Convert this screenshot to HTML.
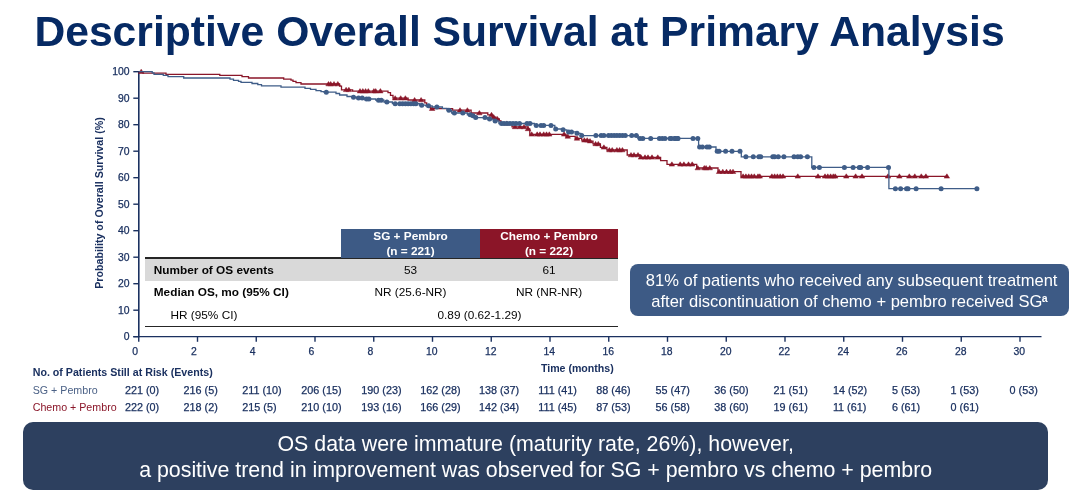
<!DOCTYPE html>
<html lang="en"><head><meta charset="utf-8"><title>Descriptive Overall Survival at Primary Analysis</title>
<style>
html,body{margin:0;padding:0;background:#fff}
body{width:1080px;height:497px;position:relative;overflow:hidden;font-family:"Liberation Sans",sans-serif}
div{position:absolute;white-space:nowrap}
.title{left:34.4px;top:7px;font-size:42.65px;font-weight:bold;color:#062a64;line-height:48px}
.yt{left:100px;width:29.6px;text-align:right;font-size:10.4px;line-height:12px;color:#1b3160;-webkit-text-stroke:0.25px #1b3160}
.xt{top:345.9px;font-size:10.4px;line-height:12px;color:#1b3160;-webkit-text-stroke:0.25px #1b3160}
.rk{font-size:10.8px;line-height:12px;color:#1b3160;-webkit-text-stroke:0.25px #1b3160}
.ylab{left:99.4px;top:203.9px;width:0;height:0}
.ylab span{position:absolute;display:block;left:-100px;width:200px;top:-6.5px;height:12px;line-height:12px;text-align:center;transform:rotate(-90deg);font-size:10.7px;font-weight:bold;color:#1b3160}
.xlab{left:540.9px;top:362.4px;font-size:10.62px;line-height:12px;font-weight:bold;color:#1b3160}
.rh{left:32.7px;top:365.9px;font-size:10.66px;line-height:12px;font-weight:bold;color:#1b3160}
.r1{left:32.7px;top:383.6px;font-size:10.68px;line-height:12px;color:#4b6186}
.r2{left:32.7px;top:400.8px;font-size:10.68px;line-height:12px;color:#8a1629}
.tb{font-size:11.8px;line-height:14px;color:#050505}
.hd{top:228.8px;height:29px;color:#fff;font-weight:bold;text-align:center;font-size:11.8px;line-height:14.4px;padding-top:0.5px;box-sizing:border-box}
.call{left:630.1px;top:264px;width:438.7px;height:52px;border-radius:8px;background:#3d5a85;color:#fff;text-align:center;font-size:16.54px;line-height:20.2px;padding-top:7.3px;box-sizing:border-box}
.call sup{font-size:10.5px;line-height:0;vertical-align:4.5px;font-weight:bold;margin-left:-0.5px}
.call span{position:relative;left:2.2px}
.ban{left:23px;top:422px;width:1025.3px;height:68px;border-radius:10px;background:#2d405f;color:#fff;text-align:center;font-size:21.37px;line-height:25.6px;padding-top:10.1px;box-sizing:border-box}
</style></head><body>
<div class="title">Descriptive Overall Survival at Primary Analysis</div>
<svg width="1080" height="497" viewBox="0 0 1080 497" style="position:absolute;left:0;top:0">
<g stroke="#1b3160" stroke-width="1.4" fill="none">
<path d="M138.8 71.1V337.2" stroke-width="1.6"/>
<path d="M133.3 336.6H1041.5"/>
<path d="M133.3 336.7H138.9"/>
<path d="M133.3 310.2H138.9"/>
<path d="M133.3 283.7H138.9"/>
<path d="M133.3 257.2H138.9"/>
<path d="M133.3 230.7H138.9"/>
<path d="M133.3 204.2H138.9"/>
<path d="M133.3 177.7H138.9"/>
<path d="M133.3 151.2H138.9"/>
<path d="M133.3 124.7H138.9"/>
<path d="M133.3 98.2H138.9"/>
<path d="M133.3 71.7H138.9"/>
<path d="M138.75 336.6V341.8"/>
<path d="M197.50 336.6V341.8"/>
<path d="M256.25 336.6V341.8"/>
<path d="M315.00 336.6V341.8"/>
<path d="M373.75 336.6V341.8"/>
<path d="M432.50 336.6V341.8"/>
<path d="M491.25 336.6V341.8"/>
<path d="M550.00 336.6V341.8"/>
<path d="M608.75 336.6V341.8"/>
<path d="M667.50 336.6V341.8"/>
<path d="M726.25 336.6V341.8"/>
<path d="M785.00 336.6V341.8"/>
<path d="M843.75 336.6V341.8"/>
<path d="M902.50 336.6V341.8"/>
<path d="M961.25 336.6V341.8"/>
<path d="M1020.00 336.6V341.8"/>
</g>
<path d="M138.8 71.7H143.0V73.1H166.0V74.3H219.8V75.4H242.0V76.7H248.5V78.0H283.7V79.1H291.0V80.2H293.0V81.3H296.0V82.6H301.0V84.0H339.6V86.2H341.5V89.8H352.6V91.1H388.0V92.7H390.5V95.4H393.0V98.2H408.1V100.0H424.8V102.8H426.7V104.7H428.5V106.5H430.4V108.7H452.6V110.2H471.1V113.0H487.8V114.8H492.0V117.1H496.0V118.9H499.3V120.8H501.0V123.4H512.0V126.9H528.0V128.9H529.8V134.3H566.0V136.4H575.2V138.4H581.7V140.2H589.3V141.1H593.0V143.9H600.4V147.3H606.9V150.0H627.2V155.0H640.2V157.3H660.6V160.6H667.0V164.3H696.7V168.0H718.0V171.7H741.0V176.3H948.1" stroke="#8a1629" stroke-width="1.3" fill="none"/>
<g fill="#8a1629" stroke="#8a1629" stroke-width="0.5" stroke-linejoin="round">
<path d="M138.4 73.5L141.2 69.2L143.9 73.5Z"/>
<path d="M325.8 85.8L328.5 81.5L331.2 85.8Z"/>
<path d="M327.9 85.8L330.7 81.5L333.4 85.8Z"/>
<path d="M331.2 85.8L334.0 81.5L336.8 85.8Z"/>
<path d="M335.1 85.8L337.8 81.5L340.6 85.8Z"/>
<path d="M343.4 91.6L346.1 87.3L348.9 91.6Z"/>
<path d="M346.1 91.6L348.9 87.3L351.6 91.6Z"/>
<path d="M357.2 92.9L360.0 88.6L362.8 92.9Z"/>
<path d="M360.1 92.9L362.8 88.6L365.6 92.9Z"/>
<path d="M362.9 92.9L365.6 88.6L368.4 92.9Z"/>
<path d="M365.6 92.9L368.3 88.6L371.1 92.9Z"/>
<path d="M371.1 92.9L373.9 88.6L376.6 92.9Z"/>
<path d="M372.9 92.9L375.7 88.6L378.4 92.9Z"/>
<path d="M377.6 92.9L380.4 88.6L383.1 92.9Z"/>
<path d="M392.4 100.0L395.2 95.7L397.9 100.0Z"/>
<path d="M397.9 100.0L400.7 95.7L403.4 100.0Z"/>
<path d="M402.6 100.0L405.4 95.7L408.1 100.0Z"/>
<path d="M411.9 101.8L414.6 97.5L417.4 101.8Z"/>
<path d="M418.4 101.8L421.1 97.5L423.9 101.8Z"/>
<path d="M429.4 110.5L432.2 106.2L434.9 110.5Z"/>
<path d="M457.2 112.0L460.0 107.7L462.8 112.0Z"/>
<path d="M464.6 112.0L467.4 107.7L470.1 112.0Z"/>
<path d="M476.6 114.8L479.4 110.5L482.1 114.8Z"/>
<path d="M488.8 116.6L491.5 112.3L494.2 116.6Z"/>
<path d="M490.9 118.9L493.7 114.6L496.4 118.9Z"/>
<path d="M494.6 120.7L497.4 116.4L500.1 120.7Z"/>
<path d="M503.9 125.2L506.7 120.9L509.4 125.2Z"/>
<path d="M512.2 128.7L515.0 124.4L517.8 128.7Z"/>
<path d="M517.2 128.7L520.0 124.4L522.8 128.7Z"/>
<path d="M521.2 128.7L524.0 124.4L526.8 128.7Z"/>
<path d="M525.2 130.7L528.0 126.4L530.8 130.7Z"/>
<path d="M529.0 136.1L531.7 131.8L534.5 136.1Z"/>
<path d="M534.5 136.1L537.2 131.8L540.0 136.1Z"/>
<path d="M537.2 136.1L540.0 131.8L542.8 136.1Z"/>
<path d="M541.0 136.1L543.7 131.8L546.5 136.1Z"/>
<path d="M543.8 136.1L546.5 131.8L549.2 136.1Z"/>
<path d="M546.5 136.1L549.3 131.8L552.0 136.1Z"/>
<path d="M561.4 136.1L564.1 131.8L566.9 136.1Z"/>
<path d="M565.0 138.2L567.8 133.9L570.5 138.2Z"/>
<path d="M574.2 140.2L577.0 135.9L579.8 140.2Z"/>
<path d="M581.6 142.0L584.4 137.7L587.1 142.0Z"/>
<path d="M584.5 142.0L587.2 137.7L590.0 142.0Z"/>
<path d="M587.2 142.9L590.0 138.6L592.8 142.9Z"/>
<path d="M592.9 145.7L595.6 141.4L598.4 145.7Z"/>
<path d="M595.5 145.7L598.3 141.4L601.0 145.7Z"/>
<path d="M601.1 149.1L603.9 144.8L606.6 149.1Z"/>
<path d="M606.6 151.8L609.4 147.5L612.1 151.8Z"/>
<path d="M609.5 151.8L612.2 147.5L615.0 151.8Z"/>
<path d="M614.1 151.8L616.9 147.5L619.6 151.8Z"/>
<path d="M616.9 151.8L619.6 147.5L622.4 151.8Z"/>
<path d="M619.6 151.8L622.4 147.5L625.1 151.8Z"/>
<path d="M628.2 156.8L631.0 152.5L633.8 156.8Z"/>
<path d="M631.2 156.8L634.0 152.5L636.8 156.8Z"/>
<path d="M635.2 156.8L638.0 152.5L640.8 156.8Z"/>
<path d="M638.2 159.1L641.0 154.8L643.8 159.1Z"/>
<path d="M642.2 159.1L645.0 154.8L647.8 159.1Z"/>
<path d="M645.2 159.1L648.0 154.8L650.8 159.1Z"/>
<path d="M649.2 159.1L652.0 154.8L654.8 159.1Z"/>
<path d="M655.0 159.1L657.8 154.8L660.5 159.1Z"/>
<path d="M669.1 166.1L671.9 161.8L674.6 166.1Z"/>
<path d="M677.5 166.1L680.2 161.8L683.0 166.1Z"/>
<path d="M681.1 166.1L683.9 161.8L686.6 166.1Z"/>
<path d="M685.8 166.1L688.5 161.8L691.2 166.1Z"/>
<path d="M689.5 166.1L692.2 161.8L695.0 166.1Z"/>
<path d="M695.0 169.8L697.8 165.5L700.5 169.8Z"/>
<path d="M701.5 169.8L704.3 165.5L707.0 169.8Z"/>
<path d="M703.4 169.8L706.1 165.5L708.9 169.8Z"/>
<path d="M707.0 169.8L709.8 165.5L712.5 169.8Z"/>
<path d="M716.4 173.5L719.1 169.2L721.9 173.5Z"/>
<path d="M720.0 173.5L722.8 169.2L725.5 173.5Z"/>
<path d="M723.8 173.5L726.5 169.2L729.2 173.5Z"/>
<path d="M727.5 173.5L730.2 169.2L733.0 173.5Z"/>
<path d="M730.2 173.5L733.0 169.2L735.8 173.5Z"/>
<path d="M740.4 178.1L743.1 173.8L745.9 178.1Z"/>
<path d="M743.1 178.1L745.9 173.8L748.6 178.1Z"/>
<path d="M746.0 178.1L748.7 173.8L751.5 178.1Z"/>
<path d="M748.8 178.1L751.5 173.8L754.2 178.1Z"/>
<path d="M751.5 178.1L754.3 173.8L757.0 178.1Z"/>
<path d="M755.2 178.1L758.0 173.8L760.8 178.1Z"/>
<path d="M757.0 178.1L759.8 173.8L762.5 178.1Z"/>
<path d="M769.1 178.1L771.9 173.8L774.6 178.1Z"/>
<path d="M771.9 178.1L774.6 173.8L777.4 178.1Z"/>
<path d="M774.6 178.1L777.4 173.8L780.1 178.1Z"/>
<path d="M777.5 178.1L780.2 173.8L783.0 178.1Z"/>
<path d="M780.2 178.1L783.0 173.8L785.8 178.1Z"/>
<path d="M795.0 178.1L797.8 173.8L800.5 178.1Z"/>
<path d="M815.2 178.1L818.0 173.8L820.8 178.1Z"/>
<path d="M822.2 178.1L825.0 173.8L827.8 178.1Z"/>
<path d="M825.0 178.1L827.8 173.8L830.5 178.1Z"/>
<path d="M827.9 178.1L830.6 173.8L833.4 178.1Z"/>
<path d="M830.5 178.1L833.3 173.8L836.0 178.1Z"/>
<path d="M832.5 178.1L835.2 173.8L838.0 178.1Z"/>
<path d="M843.5 178.1L846.3 173.8L849.0 178.1Z"/>
<path d="M852.9 178.1L855.6 173.8L858.4 178.1Z"/>
<path d="M859.2 178.1L862.0 173.8L864.8 178.1Z"/>
<path d="M885.2 178.1L888.0 173.8L890.8 178.1Z"/>
<path d="M896.6 178.1L899.4 173.8L902.1 178.1Z"/>
<path d="M906.5 178.1L909.3 173.8L912.0 178.1Z"/>
<path d="M912.0 178.1L914.8 173.8L917.5 178.1Z"/>
<path d="M918.5 178.1L921.3 173.8L924.0 178.1Z"/>
<path d="M923.1 178.1L925.9 173.8L928.6 178.1Z"/>
<path d="M944.1 178.1L946.9 173.8L949.6 178.1Z"/>
</g>
<path d="M138.8 71.7H152.2V72.9H154.0V74.3H163.3V75.4H168.0V76.7H183.7V78.0H230.0V79.1H233.5V80.4H238.5V81.4H241.0V82.4H252.0V83.5H257.8V84.6H261.5V85.9H281.0V87.2H305.0V88.3H310.5V89.4H316.0V90.6H321.0V91.6H324.0V92.2H336.0V93.5H339.6V95.0H347.0V96.5H351.7V97.2H356.3V98.1H364.6V99.0H375.7V100.2H384.0V102.0H392.4V103.7H419.3V105.2H425.7V105.8H432.2V107.0H442.4V108.3H447.0V110.2H451.7V113.0H467.4V114.8H472.0V115.8H474.8V117.6H487.8V119.1H493.3V120.9H498.9V123.5H534.4V125.4H554.8V129.0H563.0V129.8H566.9V131.9H577.0V133.3H580.7V135.6H638.0V138.4H698.6V147.0H716.0V151.3H741.3V156.8H811.8V167.4H888.9V188.7H976.9" stroke="#3f5d88" stroke-width="1.3" fill="none"/>
<g fill="#3f5d88">
<circle cx="326.3" cy="92.2" r="2.5"/>
<circle cx="353.5" cy="97.2" r="2.5"/>
<circle cx="358.5" cy="98.1" r="2.5"/>
<circle cx="362.2" cy="98.1" r="2.5"/>
<circle cx="366.5" cy="99.0" r="2.5"/>
<circle cx="368.9" cy="99.0" r="2.5"/>
<circle cx="378.5" cy="100.2" r="2.5"/>
<circle cx="381.3" cy="100.2" r="2.5"/>
<circle cx="386.9" cy="102.0" r="2.5"/>
<circle cx="395.2" cy="103.7" r="2.5"/>
<circle cx="399.8" cy="103.7" r="2.5"/>
<circle cx="402.6" cy="103.7" r="2.5"/>
<circle cx="405.4" cy="103.7" r="2.5"/>
<circle cx="408.1" cy="103.7" r="2.5"/>
<circle cx="410.9" cy="103.7" r="2.5"/>
<circle cx="413.7" cy="103.7" r="2.5"/>
<circle cx="415.9" cy="103.7" r="2.5"/>
<circle cx="421.7" cy="105.2" r="2.5"/>
<circle cx="428.5" cy="105.8" r="2.5"/>
<circle cx="436.9" cy="107.0" r="2.5"/>
<circle cx="448.9" cy="110.2" r="2.5"/>
<circle cx="454.4" cy="113.0" r="2.5"/>
<circle cx="462.8" cy="113.0" r="2.5"/>
<circle cx="470.2" cy="114.8" r="2.5"/>
<circle cx="473.0" cy="115.8" r="2.5"/>
<circle cx="475.7" cy="117.6" r="2.5"/>
<circle cx="485.0" cy="117.6" r="2.5"/>
<circle cx="489.6" cy="119.1" r="2.5"/>
<circle cx="495.2" cy="120.9" r="2.5"/>
<circle cx="501.5" cy="123.5" r="2.5"/>
<circle cx="504.0" cy="123.5" r="2.5"/>
<circle cx="507.0" cy="123.5" r="2.5"/>
<circle cx="510.0" cy="123.5" r="2.5"/>
<circle cx="513.0" cy="123.5" r="2.5"/>
<circle cx="516.0" cy="123.5" r="2.5"/>
<circle cx="519.5" cy="123.5" r="2.5"/>
<circle cx="527.0" cy="123.5" r="2.5"/>
<circle cx="530.0" cy="123.5" r="2.5"/>
<circle cx="536.3" cy="125.4" r="2.5"/>
<circle cx="541.0" cy="125.4" r="2.5"/>
<circle cx="543.7" cy="125.4" r="2.5"/>
<circle cx="551.0" cy="125.4" r="2.5"/>
<circle cx="555.7" cy="129.0" r="2.5"/>
<circle cx="563.1" cy="129.8" r="2.5"/>
<circle cx="568.7" cy="131.9" r="2.5"/>
<circle cx="571.5" cy="131.9" r="2.5"/>
<circle cx="577.0" cy="133.3" r="2.5"/>
<circle cx="581.7" cy="135.6" r="2.5"/>
<circle cx="595.9" cy="135.6" r="2.5"/>
<circle cx="601.1" cy="135.6" r="2.5"/>
<circle cx="603.9" cy="135.6" r="2.5"/>
<circle cx="608.5" cy="135.6" r="2.5"/>
<circle cx="611.3" cy="135.6" r="2.5"/>
<circle cx="614.1" cy="135.6" r="2.5"/>
<circle cx="616.9" cy="135.6" r="2.5"/>
<circle cx="619.7" cy="135.6" r="2.5"/>
<circle cx="622.5" cy="135.6" r="2.5"/>
<circle cx="625.3" cy="135.6" r="2.5"/>
<circle cx="631.7" cy="135.6" r="2.5"/>
<circle cx="636.3" cy="135.6" r="2.5"/>
<circle cx="640.0" cy="138.4" r="2.5"/>
<circle cx="642.8" cy="138.4" r="2.5"/>
<circle cx="650.7" cy="138.4" r="2.5"/>
<circle cx="659.4" cy="138.4" r="2.5"/>
<circle cx="662.2" cy="138.4" r="2.5"/>
<circle cx="665.0" cy="138.4" r="2.5"/>
<circle cx="671.5" cy="138.4" r="2.5"/>
<circle cx="675.2" cy="138.4" r="2.5"/>
<circle cx="678.0" cy="138.4" r="2.5"/>
<circle cx="670.0" cy="138.4" r="2.5"/>
<circle cx="674.6" cy="138.4" r="2.5"/>
<circle cx="677.4" cy="138.4" r="2.5"/>
<circle cx="693.0" cy="138.4" r="2.5"/>
<circle cx="697.8" cy="138.4" r="2.5"/>
<circle cx="699.6" cy="147.0" r="2.5"/>
<circle cx="702.4" cy="147.0" r="2.5"/>
<circle cx="707.0" cy="147.0" r="2.5"/>
<circle cx="709.3" cy="147.0" r="2.5"/>
<circle cx="717.2" cy="151.3" r="2.5"/>
<circle cx="719.1" cy="151.3" r="2.5"/>
<circle cx="725.6" cy="151.3" r="2.5"/>
<circle cx="732.0" cy="151.3" r="2.5"/>
<circle cx="740.0" cy="151.3" r="2.5"/>
<circle cx="745.9" cy="156.8" r="2.5"/>
<circle cx="753.3" cy="156.8" r="2.5"/>
<circle cx="758.9" cy="156.8" r="2.5"/>
<circle cx="760.7" cy="156.8" r="2.5"/>
<circle cx="772.8" cy="156.8" r="2.5"/>
<circle cx="774.6" cy="156.8" r="2.5"/>
<circle cx="778.3" cy="156.8" r="2.5"/>
<circle cx="783.9" cy="156.8" r="2.5"/>
<circle cx="794.0" cy="156.8" r="2.5"/>
<circle cx="797.8" cy="156.8" r="2.5"/>
<circle cx="800.6" cy="156.8" r="2.5"/>
<circle cx="807.4" cy="156.8" r="2.5"/>
<circle cx="813.9" cy="167.4" r="2.5"/>
<circle cx="819.4" cy="167.4" r="2.5"/>
<circle cx="844.4" cy="167.4" r="2.5"/>
<circle cx="853.1" cy="167.4" r="2.5"/>
<circle cx="859.3" cy="167.4" r="2.5"/>
<circle cx="860.7" cy="167.4" r="2.5"/>
<circle cx="867.6" cy="167.4" r="2.5"/>
<circle cx="888.5" cy="167.4" r="2.5"/>
<circle cx="895.4" cy="188.7" r="2.5"/>
<circle cx="900.6" cy="188.7" r="2.5"/>
<circle cx="906.5" cy="188.7" r="2.5"/>
<circle cx="908.0" cy="188.7" r="2.5"/>
<circle cx="916.1" cy="188.7" r="2.5"/>
<circle cx="941.1" cy="188.7" r="2.5"/>
<circle cx="976.9" cy="188.7" r="2.5"/>
</g>
</svg>
<div class="ylab"><span>Probability of Overall Survival (%)</span></div>
<div class="yt" style="top:330.5px">0</div>
<div class="yt" style="top:304.7px">10</div>
<div class="yt" style="top:278.2px">20</div>
<div class="yt" style="top:251.7px">30</div>
<div class="yt" style="top:225.2px">40</div>
<div class="yt" style="top:198.7px">50</div>
<div class="yt" style="top:172.2px">60</div>
<div class="yt" style="top:145.7px">70</div>
<div class="yt" style="top:119.2px">80</div>
<div class="yt" style="top:92.7px">90</div>
<div class="yt" style="top:66.2px">100</div>
<div class="xt" style="left:132.3px">0</div>
<div class="xt" style="left:191.1px">2</div>
<div class="xt" style="left:249.8px">4</div>
<div class="xt" style="left:308.6px">6</div>
<div class="xt" style="left:367.4px">8</div>
<div class="xt" style="left:426.1px">10</div>
<div class="xt" style="left:484.9px">12</div>
<div class="xt" style="left:543.6px">14</div>
<div class="xt" style="left:602.4px">16</div>
<div class="xt" style="left:661.1px">18</div>
<div class="xt" style="left:719.9px">20</div>
<div class="xt" style="left:778.6px">22</div>
<div class="xt" style="left:837.4px">24</div>
<div class="xt" style="left:896.1px">26</div>
<div class="xt" style="left:954.9px">28</div>
<div class="xt" style="left:1013.6px">30</div>
<div class="rk" style="left:124.9px;top:383.6px">221 (0)</div>
<div class="rk" style="left:183.6px;top:383.6px">216 (5)</div>
<div class="rk" style="left:242.3px;top:383.6px">211 (10)</div>
<div class="rk" style="left:301.3px;top:383.6px">206 (15)</div>
<div class="rk" style="left:361.3px;top:383.6px">190 (23)</div>
<div class="rk" style="left:420.3px;top:383.6px">162 (28)</div>
<div class="rk" style="left:478.9px;top:383.6px">138 (37)</div>
<div class="rk" style="left:538.3px;top:383.6px">111 (41)</div>
<div class="rk" style="left:596.3px;top:383.6px">88 (46)</div>
<div class="rk" style="left:655.6px;top:383.6px">55 (47)</div>
<div class="rk" style="left:714.3px;top:383.6px">36 (50)</div>
<div class="rk" style="left:773.6px;top:383.6px">21 (51)</div>
<div class="rk" style="left:832.9px;top:383.6px">14 (52)</div>
<div class="rk" style="left:891.9px;top:383.6px">5 (53)</div>
<div class="rk" style="left:950.6px;top:383.6px">1 (53)</div>
<div class="rk" style="left:1009.6px;top:383.6px">0 (53)</div>
<div class="rk" style="left:124.9px;top:400.8px">222 (0)</div>
<div class="rk" style="left:183.6px;top:400.8px">218 (2)</div>
<div class="rk" style="left:242.3px;top:400.8px">215 (5)</div>
<div class="rk" style="left:301.3px;top:400.8px">210 (10)</div>
<div class="rk" style="left:361.3px;top:400.8px">193 (16)</div>
<div class="rk" style="left:420.3px;top:400.8px">166 (29)</div>
<div class="rk" style="left:478.9px;top:400.8px">142 (34)</div>
<div class="rk" style="left:538.3px;top:400.8px">111 (45)</div>
<div class="rk" style="left:596.3px;top:400.8px">87 (53)</div>
<div class="rk" style="left:655.6px;top:400.8px">56 (58)</div>
<div class="rk" style="left:714.3px;top:400.8px">38 (60)</div>
<div class="rk" style="left:773.6px;top:400.8px">19 (61)</div>
<div class="rk" style="left:832.9px;top:400.8px">11 (61)</div>
<div class="rk" style="left:891.9px;top:400.8px">6 (61)</div>
<div class="rk" style="left:950.6px;top:400.8px">0 (61)</div>
<div class="xlab">Time (months)</div>
<div class="rh">No. of Patients Still at Risk (Events)</div>
<div class="r1">SG + Pembro</div>
<div class="r2">Chemo + Pembro</div>
<div style="left:145px;top:258.6px;width:473px;height:22.2px;background:#d9d9d9"></div>
<div style="left:145px;top:257.3px;width:473px;height:1.3px;background:#262626"></div>
<div style="left:145px;top:325.8px;width:473px;height:1.2px;background:#262626"></div>
<div class="hd" style="left:341px;width:139px;background:#3d5a85">SG + Pembro<br>(n = 221)</div>
<div class="hd" style="left:480px;width:138px;background:#8b1528">Chemo + Pembro<br>(n = 222)</div>
<div class="tb" style="left:153.8px;top:263px;font-weight:bold">Number of OS events</div>
<div class="tb" style="left:153.8px;top:284.5px;font-weight:bold">Median OS, mo (95% CI)</div>
<div class="tb" style="left:170.5px;top:308px">HR (95% CI)</div>
<div class="tb" style="left:341px;width:139px;top:263px;text-align:center">53</div>
<div class="tb" style="left:480px;width:138px;top:263px;text-align:center">61</div>
<div class="tb" style="left:341px;width:139px;top:284.5px;text-align:center">NR (25.6-NR)</div>
<div class="tb" style="left:480px;width:138px;top:284.5px;text-align:center">NR (NR-NR)</div>
<div class="tb" style="left:341px;width:277px;top:308px;text-align:center">0.89 (0.62-1.29)</div>
<div class="call"><span>81% of patients who received any subsequent treatment</span><br>after discontinuation of chemo + pembro received SG<sup>a</sup></div>
<div class="ban">OS data were immature (maturity rate, 26%), however,<br>a positive trend in improvement was observed for SG + pembro vs chemo + pembro</div>
</body></html>
